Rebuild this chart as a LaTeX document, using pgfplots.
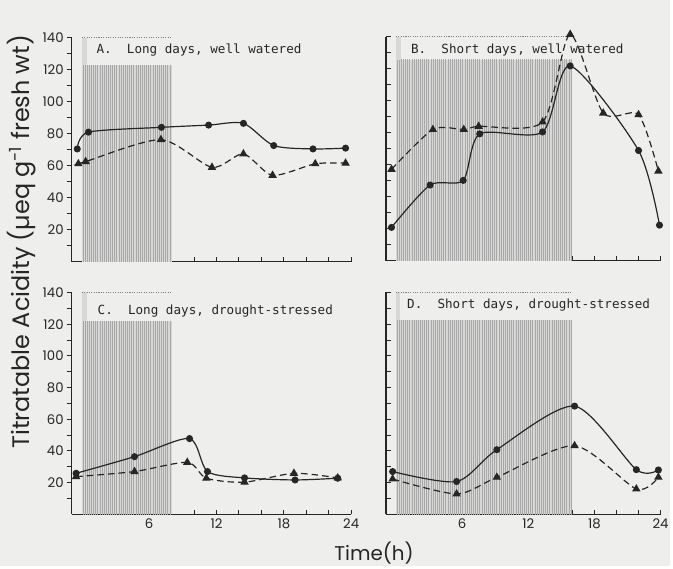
\documentclass[border=0pt]{standalone}
\usepackage{pgfplots}
\pgfplotsset{compat=1.18}
\usepackage{fontspec}
\setmainfont{Poppins}
\newfontfamily\monofont{DejaVu Sans Mono}
\usetikzlibrary{patterns.meta}
\definecolor{bg}{HTML}{EEEEEC}
\definecolor{ink}{HTML}{262626}
\definecolor{shadebg}{HTML}{D8D8D6}

\pgfplotsset{
  panel/.style={
    scale only axis, anchor=south west,
    xmin=-0.9, xmax=24, ymin=0, ymax=140,
    axis lines*=left,
    axis line style={ink, line width=0.8pt},
    xtick={6,12,18,24}, minor xtick={2,4,8,10,14,16,20,22},
    ytick={20,40,...,140}, minor ytick={10,30,...,130},
    tick style={ink, line width=0.7pt},
    major tick length=3.5pt, minor tick length=3.5pt,
    xtick align=inside,
    tick label style={font=\fontsize{10}{12}\selectfont, text=ink},
    yticklabel style={xshift=1pt},
    /pgf/number format/assume math mode=true,
    clip=false,
  },
  sol/.style={ink, line width=0.9pt, smooth, tension=0.45, mark=*, mark size=2.2pt,
    mark options={solid, fill=ink}},
  das/.style={ink, line width=0.9pt, dash pattern=on 5pt off 3pt, smooth, tension=0.45,
    mark=triangle*, mark size=2.8pt, mark options={solid, fill=ink}},
}
\tikzset{
  lbl/.style={anchor=west, inner sep=0pt, font=\monofont\fontsize{9.5}{11}\selectfont, text=ink},
  hatch/.style={pattern={Lines[angle=90, distance=1.6pt, line width=0.35pt]}, pattern color=ink!40},
}

\begin{document}
\begin{tikzpicture}[x=1pt,y=1pt]
\fill[bg] (0,0) rectangle (504.75,426.75);

% A. long days, well watered
\begin{axis}[panel, at={(54pt,229.5pt)}, width=210.75pt, height=168.75pt,
  xticklabels={}, ytick align=outside]
\fill[shadebg] (axis cs:0,0) rectangle (axis cs:8,123);
\fill[hatch] (axis cs:0,0) rectangle (axis cs:8,123);
\fill[shadebg] (axis cs:0,123) rectangle (axis cs:0.5,140);
\draw[ink!60, densely dotted, line width=0.8pt] (axis cs:0,140) -- (axis cs:8,140);
\node[lbl] at (axis cs:1.3,132.5) {A.~~Long days, well watered};
\addplot[sol] coordinates {(-0.4,70.5) (0.6,81) (7.1,84) (11.3,85.4) (14.4,86.5) (17.1,72.6) (20.6,70.5) (23.5,71)};
\addplot[das] coordinates {(-0.3,61.2) (0.35,62.6) (7.05,76.3) (11.6,59) (14.4,67.4) (17,54) (20.8,61.2) (23.5,61.6)};
\end{axis}

% B. short days, well watered
\begin{axis}[panel, at={(291pt,230.25pt)}, width=207pt, height=168.75pt,
  xticklabels={}, yticklabels={}, ytick align=inside]
\fill[shadebg] (axis cs:0,0) rectangle (axis cs:16,125.5);
\fill[hatch] (axis cs:0,0) rectangle (axis cs:16,125.5);
\fill[shadebg] (axis cs:0,125.5) rectangle (axis cs:0.45,140);
\draw[ink!60, densely dotted, line width=0.8pt] (axis cs:0,140) -- (axis cs:16,140);
\node[lbl] at (axis cs:1.35,131.5) {B.~~Short days, well watered};
\addplot[sol] coordinates {(-0.4,20.8) (3.1,47.3) (6.1,50.2) (7.6,79.3) (13.3,80.5) (15.8,121.8) (22,68.9) (23.9,22.2)};
\addplot[das] coordinates {(-0.4,57.1) (3.35,82) (6.15,82) (7.5,84) (13.3,86.7) (15.8,141.5) (18.8,92.3) (22,91.3) (23.8,56)};
\end{axis}

% C. long days, drought-stressed
\begin{axis}[panel, at={(54pt,39pt)}, width=210.75pt, height=167.25pt,
  ytick align=outside]
\fill[shadebg] (axis cs:0,0) rectangle (axis cs:8,122);
\fill[hatch] (axis cs:0,0) rectangle (axis cs:8,122);
\fill[shadebg] (axis cs:0,122) rectangle (axis cs:0.5,140);
\draw[ink!60, densely dotted, line width=0.8pt] (axis cs:0,140) -- (axis cs:8,140);
\node[lbl] at (axis cs:1.4,128) {C.~~Long days, drought-stressed};
\addplot[sol] coordinates {(-0.5,25.9) (4.7,36.4) (9.6,47.8) (11.2,27) (14.5,23) (19,21.7) (22.8,22.8)};
\addplot[das] coordinates {(-0.5,23.8) (4.7,27) (9.4,32.8) (11.1,22.8) (14.5,20.3) (18.9,25.9) (22.8,23)};
\end{axis}

% D. short days, drought-stressed
\begin{axis}[panel, at={(291pt,39pt)}, width=207pt, height=167.25pt,
  yticklabels={}, ytick align=inside]
\fill[shadebg] (axis cs:0,0) rectangle (axis cs:16,122.6);
\fill[hatch] (axis cs:0,0) rectangle (axis cs:16,122.6);
\fill[shadebg] (axis cs:0,122.6) rectangle (axis cs:0.4,140);
\draw[ink!60, densely dotted, line width=0.8pt] (axis cs:0,140) -- (axis cs:16,140);
\node[lbl] at (axis cs:1.0,132) {D.~~Short days, drought-stressed};
\addplot[sol] coordinates {(-0.3,27) (5.5,20.7) (9.15,40.8) (16.2,68.3) (21.8,28.2) (23.8,28)};
\addplot[das] coordinates {(-0.3,22.3) (5.5,12.9) (9.15,23.4) (16.2,43.3) (21.8,16) (23.8,23.4)};
\end{axis}

\node[rotate=90, text=ink, font=\fontsize{18}{21}\selectfont] at (16.5,244.5)
  {Titratable Acidity (µeq g\textsuperscript{-1} fresh wt)};
\node[text=ink, font=\fontsize{15}{18}\selectfont] at (282,9.75) {Time(h)};
\end{tikzpicture}
\end{document}
